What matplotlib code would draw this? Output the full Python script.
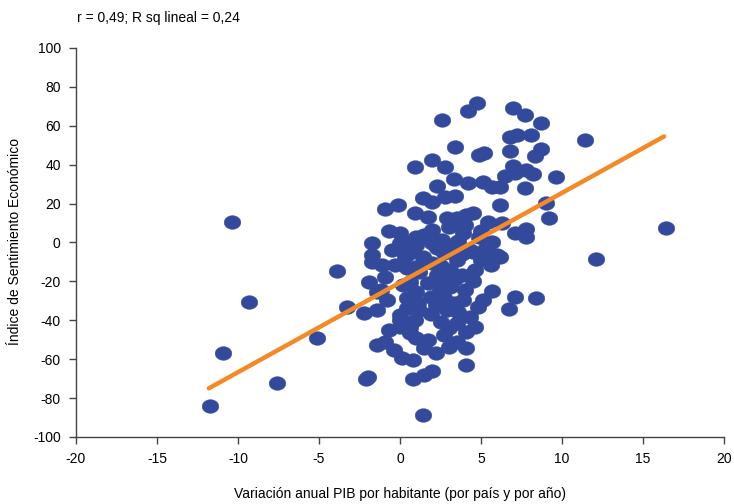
import numpy as np
import matplotlib
matplotlib.use("Agg")
from matplotlib import pyplot as plt
from matplotlib.path import Path

# -----------------------------------------------------------------------------
# data: (GDP per capita change, economic sentiment)

gdp_x = [
	-10.4, -9.3, -10.9, -11.7, -7.6, -5.1, -3.9, -3.3,
	11.4, 16.4, 12.1, 9.2, 9.0, 9.6, 7.1, 8.4, 6.7,
	7.0, 7.7, 8.7, 6.8, 7.2, 8.1, 6.8, 8.7, 8.3, 7.0, 6.5, 7.1, 7.8, 8.2,
	7.7, 6.2, 6.2, 6.3, 7.1, 7.8, 7.8, 6.2,
	4.75, 4.2, 2.6, 3.4, 4.9, 5.2, 0.9, 2.0, 2.8, 3.3, 4.2, 5.1, 5.7, 2.3,
	1.4, 2.0, 2.8, 3.4, -0.9, -0.1, 0.9, 1.7, 2.9, 3.5, 4.1, 4.5, 5.4,
	0.0, 1.0, 2.0, 3.0, 3.9, 4.9, 5.7, -1.7, -1.7, 0.0, 1.0, 2.0, 3.1, 4.3, 6.0,
	0.7, 1.7, -1.1, -0.3, 0.4, -0.9, -1.9, -1.2, -2.2,
	-1.7, 0.9, -1.4, -0.8, -1.4, 0.0, 0.0, 0.6, 1.0, 1.5, -1.4, -0.9, -0.4,
	0.1, 0.8, -2.0, 0.8, 1.5, 2.0, 1.4, 4.1, 4.1, 3.0, 3.5, 2.7, 4.6, 4.1,
	4.3, 4.8, 5.1, 5.7, 4.0, 3.9, 2.9, 2.5, 3.5, 1.2, 0.4, 0.0, 0.9, 0.6, 1.7,
	5.6, 5.6, 4.5, 3.5, 3.1, 2.3, 1.7, 2.5, 3.1, 1.0, 1.9, 2.7, 0.4, 0.6,
	2.0, 1.4, 2.7, 0.8, 3.2,
	1.5, 2.5, 3.8, 4.5, 1.2, 0.2, 2.2, 3.3, 4.6, 5.0, 3.8, 2.3, 1.5, 2.6,
	3.6, 4.0, 5.0, 5.3, -0.7, -0.5, 0.3, -0.7, 3.0, 2.2, -2.1, 2.8,
	1.1, 2.4, 3.6, 4.4, 0.5, 1.9, 3.4,
]
sentiment_y = [
	10.6, -30.7, -57.0, -84.3, -72.4, -49.2, -14.7, -33.2,
	52.8, 7.5, -8.5, 12.6, 20.4, 33.8, -28.0, -28.6, -34.3,
	69.3, 65.3, 61.6, 54.4, 55.4, 55.4, 47.2, 48.2, 44.6, 39.4, 34.3, 35.8, 37.4, 35.3,
	28.1, 28.6, 19.3, 10.0, 4.9, 7.0, 2.8, -7.5,
	71.9, 67.3, 63.1, 49.2, 45.1, 46.1, 38.9, 42.5, 38.9, 32.7, 30.7, 31.2, 28.6, 29.1,
	22.9, 20.9, 23.5, 24.0, 17.3, 19.3, 15.2, 13.1, 12.6, 12.6, 14.2, 15.2, 10.6,
	4.9, 2.8, 6.4, 8.0, 4.9, 2.8, 0.3, -0.3, -6.4, -0.3, -1.3, -0.3, -2.3, -3.9, -6.4,
	0.3, 2.8, -11.6, -11.6, -13.1, -17.8, -20.4, -24.5, -36.3,
	-10.0, -12.6, -25.5, -29.6, -34.8, -37.4, -43.6, -43.6, -49.2, -54.4, -52.8, -51.3, -55.4,
	-59.5, -60.6, -69.3, -70.4, -68.3, -66.2, -88.9, -63.1, -54.4, -53.8, -51.3, -47.7, -43.6, -46.1,
	-38.4, -33.2, -29.6, -25.0, -24.5, -29.6, -34.8, -41.0, -41.5, -34.8, -33.7, -40.0, -40.0, -46.6, -50.3,
	-11.6, -6.4, -4.9, -9.0, -14.2, -16.8, -20.9, -22.9, -22.9, -25.5, -28.0, -28.6, -28.6, -20.4,
	-10.6, -7.5, -5.4, -2.3, -1.3,
	-10.0, -12.0, -17.0, -20.0, -15.0, -22.0, -32.0, -31.0, -14.0, -9.0, -6.0, -3.0, 4.0, 1.5,
	0.5, 9.0, 6.0, -3.0, 6.0, -4.0, -7.0, -45.0, -44.0, -57.0, -70.0, -18.0,
	-31.0, -26.0, -36.0, -17.0, -6.0, -37.0, -19.0,
]

# fitted line as drawn (end points)
fit_x = [-11.8, 16.3]
fit_y = [-75.0, 54.5]

x_ticks = [-20, -15, -10, -5, 0, 5, 10, 15, 20]
y_ticks = [-100, -80, -60, -40, -20, 0, 20, 40, 60, 80, 100]

# -----------------------------------------------------------------------------

plt.rcParams['font.family']        = ['Liberation Sans', 'DejaVu Sans']
plt.rcParams['font.size']          = 10
plt.rcParams['axes.unicode_minus'] = False

blue   = '#334a9c'
orange = '#f48a26'
axcol  = '#444444'

# slightly flattened ellipse marker
t = np.linspace(0, 2*np.pi, 60)
ellipse = Path(np.column_stack([0.5*np.cos(t), 0.41*np.sin(t)]), closed=True)

fig = plt.figure(figsize=(7.34, 5.04), dpi=100)
ax  = fig.add_axes([0.1035, 0.133, 0.883, 0.772])

ax.plot(gdp_x, sentiment_y, linestyle='none', marker=ellipse, markersize=12,
	markerfacecolor=blue, markeredgecolor=blue, markeredgewidth=0.3, zorder=2)
ax.plot(fit_x, fit_y, color=orange, linewidth=3.2, solid_capstyle='round', zorder=3)

ax.set_xlim(-20, 20)
ax.set_ylim(-100, 100)
ax.set_xticks(x_ticks)
ax.set_yticks(y_ticks)

for s in ['right', 'top']:
	ax.spines[s].set_visible(False)
for s in ['left', 'bottom']:
	ax.spines[s].set_color(axcol)
	ax.spines[s].set_linewidth(1.0)
ax.tick_params(direction='out', length=5, width=1.0, color=axcol, labelsize=10, pad=6)

fig.text(0.545, 0.02, "Variación anual PIB por habitante (por país y por año)",
	ha='center', va='center', fontsize=10)
fig.text(0.02, 0.52, "Índice de Sentimiento Económico",
	ha='center', va='center', rotation=90, fontsize=10)

fig.text(0.105, 0.965, "r = 0,49; R sq lineal = 0,24", ha='left', va='center', fontsize=10)

plt.savefig("out.png", dpi=100)
